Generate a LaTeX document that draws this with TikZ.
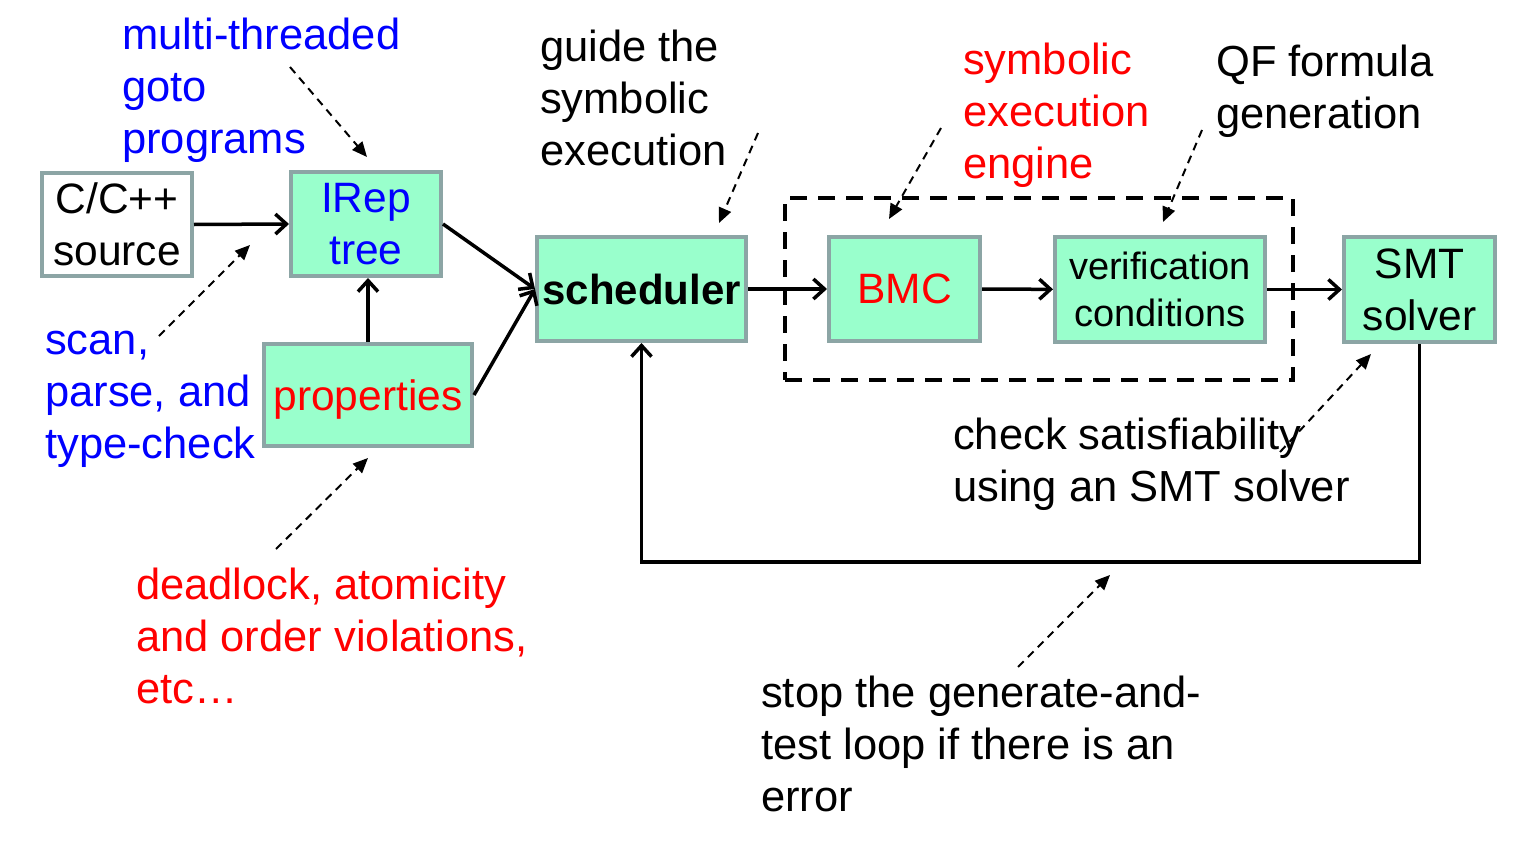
\documentclass[tikz,border=0pt]{standalone}
\usepackage{fontspec}
\setmainfont{Liberation Sans}
\usetikzlibrary{arrows.meta}
\definecolor{boxfill}{RGB}{153,255,204}
\definecolor{boxline}{RGB}{140,165,165}
\definecolor{myblue}{RGB}{0,0,255}
\definecolor{myred}{RGB}{255,0,0}
\begin{document}
\begin{tikzpicture}[x=1pt,y=-1pt,
  box/.style={draw=boxline, line width=4pt, fill=boxfill, inner sep=0pt, align=center, font=\fontsize{42.5}{52}\selectfont},
  note/.style={anchor=north west, inner sep=0pt, align=left, font=\fontsize{43.5}{52}\selectfont},
  flow/.style={line width=3.5pt, -{Straight Barb[length=11pt,width=20pt]}},
  hint/.style={line width=2pt, dash pattern=on 8pt off 6pt, -{Triangle[length=15pt,width=13pt]}},
  group/.style={draw, line width=4pt, dash pattern=on 17pt off 11pt, inner sep=0pt}
]
\useasboundingbox (0,0) rectangle (1532,843);

% dashed group
\node[group, minimum width=508pt, minimum height=182pt] (grp) at (1039,289) {};

% boxes
\node[box, fill=white, minimum width=150pt, minimum height=103pt] (src) at (117,224.5) {C/C++\\source};
\node[box, text=myblue, minimum width=150pt, minimum height=104pt] (irep) at (366,224) {IRep\\tree};
\node[box, text=myred, text depth=0pt, minimum width=208pt, minimum height=102pt] (prop) at (368,395) {properties};
\node[box, font=\fontsize{42}{51}\selectfont\bfseries, minimum width=209pt, minimum height=104pt] (sched) at (641.5,289) {scheduler};
\node[box, text=myred, minimum width=151pt, minimum height=104pt] (bmc) at (904.5,289) {BMC};
\node[box, font=\fontsize{38}{47}\selectfont, minimum width=210pt, minimum height=105pt] (vc) at (1160,289.5) {verification\\conditions};
\node[box, minimum width=151pt, minimum height=105pt] (smt) at (1419.5,289.5) {SMT\\solver};

% notes
\node[note, text=myblue] (nmt) at (122,13) {\strut multi-threaded\\goto\\programs};
\node[note] (nguide) at (540,25) {\strut guide the\\symbolic\\execution};
\node[note, text=myred] (nsym) at (963,38) {\strut symbolic\\execution\\engine};
\node[note] (nqf) at (1216,40) {\strut QF formula\\generation};
\node[note, text=myblue] (nscan) at (45,318) {\strut scan,\\parse, and\\type-check};
\node[note, text=myred] (ndead) at (136,563) {\strut deadlock, atomicity\\and order violations,\\etc…};
\node[note] (ncheck) at (953,413) {\strut check satisfiability\\using an SMT solver};
\node[note] (nstop) at (761,670.5) {\strut stop the generate-and-\\test loop if there is an\\error};

% main flow
\draw[flow] (src.east) -- (irep.west);
\draw[flow] (prop.north) -- (prop.north |- irep.south);
\draw[flow] (irep.east) -- (sched.west);
\draw[flow] (prop.east) -- (sched.west);
\draw[flow] (sched) -- (bmc);
\draw[flow] (bmc) -- (vc);
\draw[flow] (vc) -- (smt);
\coordinate (loop) at (1000,562);
\draw[flow] (smt.south) -- (smt.south |- loop) -| (sched.south);

% hint arrows
\coordinate (h1s) at (290,67);   \coordinate (h1e) at (367,157);
\coordinate (h2s) at (159,336);  \coordinate (h2e) at (250,245);
\coordinate (h3s) at (276,549);  \coordinate (h3e) at (368,458);
\coordinate (h4s) at (758,133);  \coordinate (h4e) at (719,223);
\coordinate (h5s) at (941,128);  \coordinate (h5e) at (889,219);
\coordinate (h6s) at (1202,130); \coordinate (h6e) at (1163,222);
\coordinate (h7s) at (1280,452); \coordinate (h7e) at (1371,354);
\coordinate (h8s) at (1018,667); \coordinate (h8e) at (1110,575);
\foreach \i in {1,...,8} \draw[hint] (h\i s) -- (h\i e);
\end{tikzpicture}
\end{document}
